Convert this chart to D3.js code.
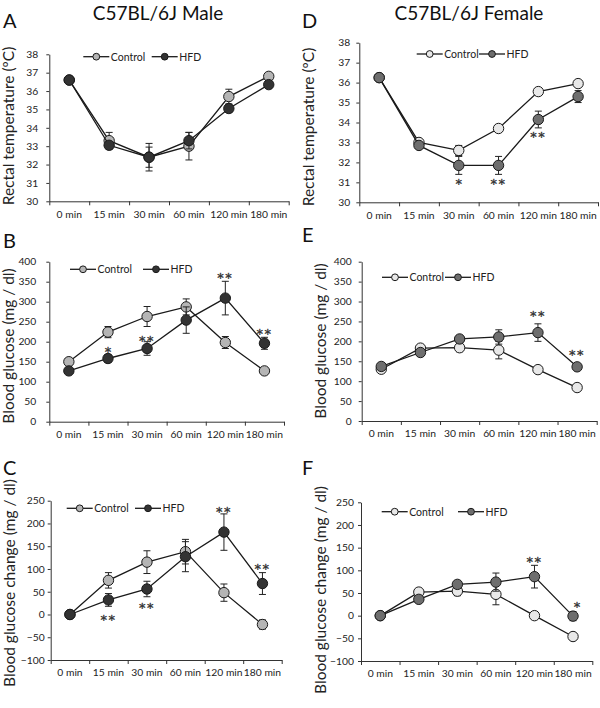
<!DOCTYPE html>
<html>
<head>
<meta charset="utf-8">
<script src="https://cdn.jsdelivr.net/npm/d3@7"></script>
<style>
  body { margin: 0; background: #fff; }
  svg { display: block; font-family: Lato, "Open Sans", sans-serif; }
</style>
</head>
<body>
<div id="fig"></div>
<script>
// time points (x categories)
var times = ["0 min", "15 min", "30 min", "60 min", "120 min", "180 min"];
var seriesNames = ["Control", "HFD"];

// rectal temperature, male
var tempMaleCtrl    = [36.6, 33.3, 32.4, 33.0, 35.7, 36.8];
var tempMaleCtrlErr = [0.1, 0.45, 0.55, 0.75, 0.4, 0.1];
var tempMaleHfd     = [36.6, 33.05, 32.4, 33.3, 35.05, 36.35];
var tempMaleHfdErr  = [0.1, 0.2, 0.75, 0.45, 0.2, 0.15];
var tempMaleStars   = [];

// rectal temperature, female
var tempFemCtrl    = [36.25, 33.0, 32.6, 33.7, 35.55, 35.95];
var tempFemCtrlErr = [0.1, 0.15, 0.25, 0.15, 0.1, 0.1];
var tempFemHfd     = [36.25, 32.85, 31.85, 31.85, 34.15, 35.3];
var tempFemHfdErr  = [0.1, 0.15, 0.45, 0.45, 0.42, 0.3];
var tempFemStars   = [[2, 31.1, "*"], [3, 31.1, "**"], [4, 33.45, "**"]];

// blood glucose, male
var glcMaleCtrl    = [150, 224, 263, 287, 198, 127];
var glcMaleCtrlErr = [5, 14, 25, 20, 15, 5];
var glcMaleHfd     = [127, 158, 183, 254, 309, 196];
var glcMaleHfdErr  = [5, 10, 17, 33, 42, 15];
var glcMaleStars   = [[1, 183, "*"], [2, 211, "**"], [4, 368, "**"], [5, 229, "**"]];

// blood glucose, female
var glcFemCtrl    = [130, 183, 184, 178, 129, 84];
var glcFemCtrlErr = [5, 5, 10, 22, 5, 5];
var glcFemHfd     = [137, 172, 206, 211, 222, 136];
var glcFemHfdErr  = [5, 5, 5, 18, 22, 5];
var glcFemStars   = [[4, 272, "**"], [5, 174, "**"]];

// blood glucose change, male
var chgMaleCtrl    = [0, 75, 115, 138, 48, -22];
var chgMaleCtrlErr = [0, 17, 25, 27, 19, 10];
var chgMaleHfd     = [0, 32, 56, 127, 181, 68];
var chgMaleHfdErr  = [0, 14, 17, 33, 40, 24];
var chgMaleStars   = [[1, -5, "**"], [2, 23, "**"], [4, 233, "**"], [5, 108, "**"]];

// blood glucose change, female
var chgFemCtrl    = [0, 52, 54, 47, 0, -46];
var chgFemCtrlErr = [0, 5, 10, 23, 5, 7];
var chgFemHfd     = [0, 36, 69, 74, 86, -1];
var chgFemHfdErr  = [0, 5, 5, 20, 25, 10];
var chgFemStars   = [[4, 126, "**"], [5, 26, "*"]];

var tempTicks = [30, 31, 32, 33, 34, 35, 36, 37, 38];
var glcTicks  = [0, 50, 100, 150, 200, 250, 300, 350, 400];
var chgTicks  = [-100, -50, 0, 50, 100, 150, 200, 250];

var maleColors = ["#b5b5b5", "#333333"];
var femColors  = ["#e8e8e8", "#6e6e6e"];

var W = 600, H = 708;
var svg = d3.select("#fig").append("svg").attr("width", W).attr("height", H);

// titles
svg.append("text").attr("x", 158).attr("y", 20).attr("text-anchor", "middle")
  .attr("font-size", 19).attr("fill", "#111").text("C57BL/6J Male");
svg.append("text").attr("x", 469).attr("y", 20).attr("text-anchor", "middle")
  .attr("font-size", 19).attr("fill", "#111").text("C57BL/6J Female");

var panels = [
  {letter: "A", lx: 3, ly: 28, x0: 49.3, x1: 288.7, yT: 54.3, yB: 201.3, dom: [30, 38], ticks: tempTicks, pad: 8,
   label: "Rectal temperature (ºC)", labX: 14, labY: 126, colors: maleColors,
   ctrl: tempMaleCtrl, ctrlErr: tempMaleCtrlErr, hfd: tempMaleHfd, hfdErr: tempMaleHfdErr, stars: tempMaleStars,
   leg: [83.3, 151.7, 56.7]},
  {letter: "D", lx: 302, ly: 28, x0: 359.3, x1: 598, yT: 42.7, yB: 202.3, dom: [30, 38], ticks: tempTicks, pad: 6,
   label: "Rectal temperature (ºC)", labX: 314, labY: 127, colors: femColors,
   ctrl: tempFemCtrl, ctrlErr: tempFemCtrlErr, hfd: tempFemHfd, hfdErr: tempFemHfdErr, stars: tempFemStars,
   leg: [416.7, 479, 54]},
  {letter: "B", lx: 3, ly: 248, x0: 49.3, x1: 284, yT: 261.7, yB: 421.7, dom: [0, 400], ticks: glcTicks, pad: 10,
   label: "Blood glucose (mg / dl)", labX: 14, labY: 346, colors: maleColors,
   ctrl: glcMaleCtrl, ctrlErr: glcMaleCtrlErr, hfd: glcMaleHfd, hfdErr: glcMaleHfdErr, stars: glcMaleStars,
   leg: [70, 143, 269.3]},
  {letter: "E", lx: 302, ly: 242, x0: 361.7, x1: 596.7, yT: 261.7, yB: 421, dom: [0, 400], ticks: glcTicks, pad: 7,
   label: "Blood glucose (mg / dl)", labX: 326, labY: 341, colors: femColors,
   ctrl: glcFemCtrl, ctrlErr: glcFemCtrlErr, hfd: glcFemHfd, hfdErr: glcFemHfdErr, stars: glcFemStars,
   leg: [382, 445, 277.3]},
  {letter: "C", lx: 3, ly: 475, x0: 50.7, x1: 281.7, yT: 500.7, yB: 660, dom: [-100, 250], ticks: chgTicks, pad: 3,
   label: "Blood glucose change (mg / dl)", labX: 15, labY: 583, colors: maleColors,
   ctrl: chgMaleCtrl, ctrlErr: chgMaleCtrlErr, hfd: chgMaleHfd, hfdErr: chgMaleHfdErr, stars: chgMaleStars,
   leg: [66.7, 135, 508.3]},
  {letter: "F", lx: 302, ly: 475, x0: 361, x1: 592.3, yT: 502.3, yB: 661, dom: [-100, 250], ticks: chgTicks, pad: 4,
   label: "Blood glucose change (mg / dl)", labX: 326, labY: 590, colors: femColors,
   ctrl: chgFemCtrl, ctrlErr: chgFemCtrlErr, hfd: chgFemHfd, hfdErr: chgFemHfdErr, stars: chgFemStars,
   leg: [381.7, 458, 511.7]}
];

panels.forEach(function (p) {
  var g = svg.append("g");
  var x = d3.scaleBand().domain(times).range([p.x0, p.x1]).padding(0);
  var xEdge = d3.scaleLinear().domain([0, times.length]).range([p.x0, p.x1]);
  var y = d3.scaleLinear().domain(p.dom).range([p.yB, p.yT]);
  var cx = function (i) { return x(times[i]) + x.bandwidth() / 2; };

  g.append("text").attr("x", p.lx).attr("y", p.ly).attr("font-size", 20).attr("fill", "#111").text(p.letter);

  // y axis
  var ya = g.append("g").attr("transform", "translate(" + p.x0 + ",0)")
    .call(d3.axisLeft(y).tickValues(p.ticks).tickSize(3).tickSizeOuter(0).tickPadding(p.pad));
  // x axis: boundary ticks + centred labels
  var xa = g.append("g").attr("transform", "translate(0," + p.yB + ")")
    .call(d3.axisBottom(xEdge).tickValues(d3.range(times.length + 1)).tickFormat("").tickSize(4).tickSizeOuter(0));
  var xl = g.append("g").attr("transform", "translate(0," + p.yB + ")")
    .call(d3.axisBottom(x).tickSize(0).tickPadding(9));
  xl.select(".domain").remove();
  [ya, xa, xl].forEach(function (a) {
    a.selectAll("path,line").attr("stroke", "#333");
    a.selectAll("text").attr("font-size", 10.3).attr("fill", "#222").attr("font-family", "Lato, sans-serif");
  });

  g.append("text").attr("transform", "translate(" + p.labX + "," + p.labY + ") rotate(-90)")
    .attr("text-anchor", "middle").attr("font-size", 15.5).attr("fill", "#222").text(p.label);

  var line = d3.line().x(function (d, i) { return cx(i); }).y(function (d) { return y(d); });
  var sets = [[p.ctrl, p.ctrlErr], [p.hfd, p.hfdErr]];
  sets.forEach(function (s, k) {
    var vals = s[0], errs = s[1];
    g.append("path").datum(vals).attr("d", line).attr("fill", "none").attr("stroke", "#1a1a1a").attr("stroke-width", 1.3);
    var eb = g.append("g").selectAll("g").data(vals).join("g");
    eb.append("line").attr("x1", function (d, i) { return cx(i); }).attr("x2", function (d, i) { return cx(i); })
      .attr("y1", function (d, i) { return y(d + errs[i]); }).attr("y2", function (d, i) { return y(d - errs[i]); })
      .attr("stroke", "#222").attr("stroke-width", 1);
    [1, -1].forEach(function (sg) {
      eb.append("line").attr("x1", function (d, i) { return cx(i) - 3.5; }).attr("x2", function (d, i) { return cx(i) + 3.5; })
        .attr("y1", function (d, i) { return y(d + sg * errs[i]); }).attr("y2", function (d, i) { return y(d + sg * errs[i]); })
        .attr("stroke", "#222").attr("stroke-width", 1);
    });
    g.append("g").selectAll("circle").data(vals).join("circle")
      .attr("cx", function (d, i) { return cx(i); }).attr("cy", function (d) { return y(d); })
      .attr("r", 5.2).attr("fill", p.colors[k]).attr("stroke", "#1a1a1a").attr("stroke-width", 1);
  });

  // significance marks
  g.selectAll(".star").data(p.stars).join("text").attr("class", "star")
    .attr("x", function (d) { return cx(d[0]) + (d[2] === "*" && d[0] === 5 ? 4 : 0); })
    .attr("y", function (d) { return y(d[1]) + 7.5; })
    .attr("text-anchor", "middle").attr("font-family", "DejaVu Sans, sans-serif").attr("font-size", 13)
    .attr("letter-spacing", d => d[2].length > 1 ? 1.5 : 0)
    .attr("fill", "#333").attr("stroke", "#333").attr("stroke-width", 0.35)
    .text(function (d) { return d[2]; });

  // legend
  seriesNames.forEach(function (n, k) {
    var lx = p.leg[k], ly = p.leg[2];
    g.append("line").attr("x1", lx).attr("x2", lx + 26).attr("y1", ly).attr("y2", ly).attr("stroke", "#1a1a1a").attr("stroke-width", 1.3);
    g.append("circle").attr("cx", lx + 13).attr("cy", ly).attr("r", 3.4).attr("fill", p.colors[k]).attr("stroke", "#1a1a1a");
    g.append("text").attr("x", lx + 27.5).attr("y", ly + 3.8).attr("font-size", 10.5).attr("fill", "#222").text(n);
  });
});
</script>
</body>
</html>
